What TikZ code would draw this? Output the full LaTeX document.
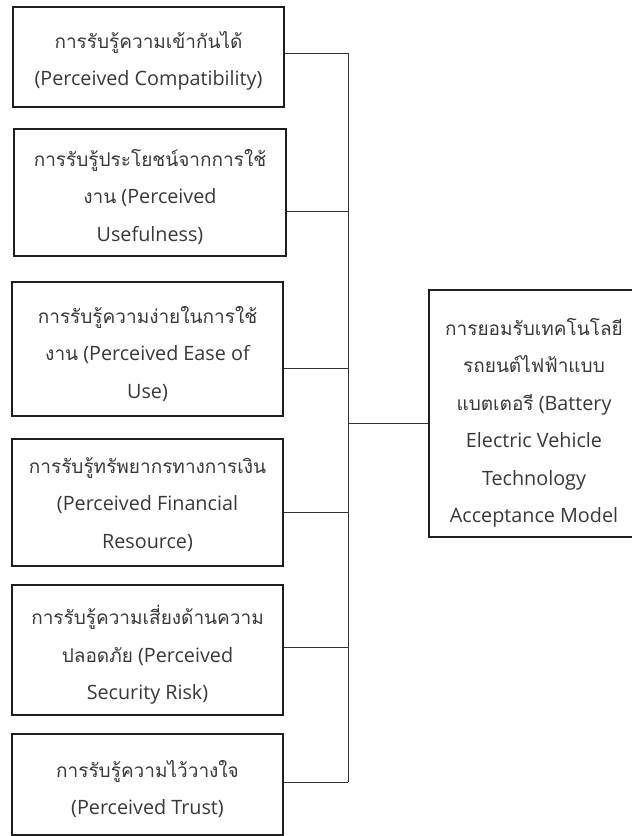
\documentclass[tikz,border=0pt]{standalone}
\usepackage{fontspec}
\setmainfont{Open Sans}[Scale=1.04]
\newfontfamily\thaifont[Script=Thai]{Loma}
\newcommand\thx[1]{{\thaifont #1}}
\begin{document}
\begin{tikzpicture}[x=1pt,y=-1pt,
  box/.style={draw=black!88, line width=1.8pt, inner sep=0pt, minimum width=271pt},
  txt/.style={align=center, text=black!78, inner sep=0pt, font=\fontsize{19}{37.5}\selectfont},
  wire/.style={draw=black!80, line width=1pt}]
\useasboundingbox (0,0) rectangle (632,836);
\begin{scope}
\clip (0,0) rectangle (632,836);
% left boxes
\node[box, minimum height=100pt] (b1) at (148.5,57) {};
\node[box, minimum width=272pt, minimum height=127pt] (b2) at (150,192.5) {};
\node[box, minimum height=134pt] (b3) at (147.5,349) {};
\node[box, minimum height=127pt] (b4) at (147.5,502.5) {};
\node[box, minimum height=130pt] (b5) at (147.5,650) {};
\node[box, minimum height=101pt] (b6) at (147.5,784.5) {};
% right box
\node[box, minimum width=210pt, minimum height=247pt] (out) at (534,413.5) {};
% texts
\node[txt] (t1) at ([yshift=-4pt]b1.center) {\thx{การรับรู้ความเข้ากันได้}\\(Perceived Compatibility)};
\node[txt] (t2) at ([yshift=-4.5pt]b2.center) {\thx{การรับรู้ประโยชน์จากการใช้}\\\thx{งาน} (Perceived\\Usefulness)};
\node[txt] (t3) at ([yshift=-5pt]b3.center) {\thx{การรับรู้ความง่ายในการใช้}\\\thx{งาน} (Perceived Ease of\\Use)};
\node[txt] (t4) at ([yshift=-2pt]b4.center) {\thx{การรับรู้ทรัพยากรทางการเงิน}\\(Perceived Financial\\Resource)};
\node[txt] (t5) at ([yshift=-5pt]b5.center) {\thx{การรับรู้ความเสี่ยงด้านความ}\\\thx{ปลอดภัย} (Perceived\\Security Risk)};
\node[txt] (t6) at ([yshift=-4.5pt]b6.center) {\thx{การรับรู้ความไว้วางใจ}\\(Perceived Trust)};
\node[txt] (t7) at ([yshift=-9.5pt]out.center) {\thx{การยอมรับเทคโนโลยี}\\\thx{รถยนต์ไฟฟ้าแบบ}\\\thx{แบตเตอรี} (Battery\\Electric Vehicle\\Technology\\Acceptance Model};
% junction points on the bus
\coordinate (j1) at (348,53);
\coordinate (j2) at (348,211);
\coordinate (j3) at (348,368);
\coordinate (j4) at (348,512);
\coordinate (j5) at (348,647);
\coordinate (j6) at (348,782);
\coordinate (jm) at (348,423);
% connectors
\draw[wire] (b1.east |- j1) -- (j1);
\draw[wire] (b2.east |- j2) -- (j2);
\draw[wire] (b3.east |- j3) -- (j3);
\draw[wire] (b4.east |- j4) -- (j4);
\draw[wire] (b5.east |- j5) -- (j5);
\draw[wire] (b6.east |- j6) -- (j6);
\draw[wire] (j1) -- (j6);
\draw[wire] (jm) -- (out.west |- jm);
\end{scope}
\end{tikzpicture}
\end{document}
